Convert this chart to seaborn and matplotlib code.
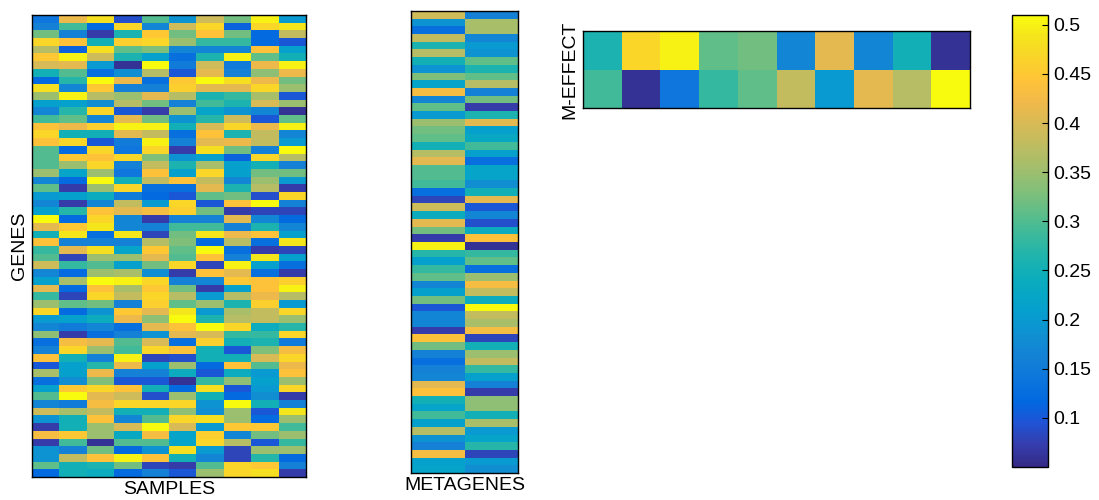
import numpy as np
import pandas as pd
import seaborn as sns
import matplotlib.pyplot as plt
from matplotlib.colors import LinearSegmentedColormap

# expression values, 60 genes x 10 samples
genes = [
    [0.14, 0.42, 0.48, 0.09, 0.30, 0.19, 0.39, 0.32, 0.50, 0.20],
    [0.16, 0.29, 0.12, 0.47, 0.17, 0.39, 0.47, 0.11, 0.47, 0.49],
    [0.32, 0.16, 0.07, 0.26, 0.45, 0.32, 0.44, 0.32, 0.12, 0.38],
    [0.47, 0.44, 0.25, 0.46, 0.47, 0.35, 0.28, 0.28, 0.12, 0.10],
    [0.37, 0.11, 0.48, 0.31, 0.33, 0.17, 0.17, 0.17, 0.44, 0.21],
    [0.45, 0.50, 0.39, 0.26, 0.21, 0.13, 0.26, 0.50, 0.31, 0.25],
    [0.40, 0.41, 0.20, 0.06, 0.51, 0.15, 0.39, 0.15, 0.42, 0.50],
    [0.25, 0.30, 0.13, 0.18, 0.37, 0.10, 0.41, 0.16, 0.34, 0.42],
    [0.12, 0.27, 0.51, 0.42, 0.13, 0.45, 0.51, 0.48, 0.42, 0.32],
    [0.48, 0.17, 0.45, 0.16, 0.16, 0.46, 0.41, 0.41, 0.47, 0.35],
    [0.35, 0.50, 0.37, 0.35, 0.41, 0.37, 0.26, 0.28, 0.36, 0.10],
    [0.21, 0.21, 0.18, 0.37, 0.32, 0.16, 0.29, 0.26, 0.40, 0.35],
    [0.17, 0.27, 0.47, 0.10, 0.07, 0.35, 0.22, 0.19, 0.17, 0.06],
    [0.29, 0.31, 0.17, 0.41, 0.32, 0.19, 0.27, 0.39, 0.10, 0.31],
    [0.44, 0.42, 0.46, 0.50, 0.50, 0.25, 0.40, 0.47, 0.42, 0.50],
    [0.47, 0.25, 0.25, 0.41, 0.38, 0.13, 0.44, 0.26, 0.38, 0.17],
    [0.44, 0.47, 0.10, 0.15, 0.50, 0.16, 0.41, 0.42, 0.38, 0.20],
    [0.30, 0.12, 0.47, 0.14, 0.47, 0.07, 0.48, 0.32, 0.16, 0.51],
    [0.30, 0.45, 0.44, 0.47, 0.33, 0.19, 0.21, 0.11, 0.47, 0.37],
    [0.30, 0.35, 0.47, 0.16, 0.38, 0.26, 0.36, 0.21, 0.25, 0.16],
    [0.35, 0.22, 0.35, 0.14, 0.44, 0.21, 0.47, 0.21, 0.32, 0.32],
    [0.17, 0.12, 0.51, 0.25, 0.38, 0.44, 0.38, 0.17, 0.35, 0.20],
    [0.31, 0.07, 0.35, 0.47, 0.13, 0.13, 0.41, 0.26, 0.37, 0.07],
    [0.20, 0.21, 0.24, 0.15, 0.12, 0.10, 0.31, 0.32, 0.09, 0.47],
    [0.17, 0.07, 0.17, 0.38, 0.20, 0.47, 0.10, 0.44, 0.51, 0.16],
    [0.21, 0.27, 0.44, 0.41, 0.43, 0.46, 0.32, 0.07, 0.08, 0.08],
    [0.51, 0.12, 0.47, 0.17, 0.07, 0.16, 0.16, 0.41, 0.17, 0.12],
    [0.41, 0.45, 0.49, 0.17, 0.16, 0.29, 0.29, 0.16, 0.26, 0.17],
    [0.25, 0.49, 0.13, 0.49, 0.08, 0.32, 0.49, 0.42, 0.44, 0.21],
    [0.44, 0.16, 0.16, 0.16, 0.37, 0.33, 0.12, 0.37, 0.13, 0.49],
    [0.28, 0.41, 0.48, 0.22, 0.45, 0.31, 0.51, 0.13, 0.07, 0.08],
    [0.30, 0.08, 0.35, 0.35, 0.41, 0.30, 0.44, 0.16, 0.49, 0.21],
    [0.39, 0.28, 0.30, 0.21, 0.32, 0.47, 0.08, 0.50, 0.21, 0.13],
    [0.17, 0.12, 0.35, 0.36, 0.18, 0.07, 0.44, 0.41, 0.13, 0.07],
    [0.21, 0.36, 0.51, 0.50, 0.47, 0.16, 0.17, 0.45, 0.44, 0.46],
    [0.41, 0.12, 0.44, 0.36, 0.45, 0.32, 0.07, 0.21, 0.44, 0.50],
    [0.28, 0.08, 0.47, 0.38, 0.47, 0.37, 0.20, 0.37, 0.42, 0.37],
    [0.35, 0.31, 0.32, 0.16, 0.46, 0.31, 0.35, 0.26, 0.46, 0.20],
    [0.47, 0.12, 0.19, 0.45, 0.41, 0.49, 0.20, 0.36, 0.38, 0.47],
    [0.20, 0.21, 0.24, 0.42, 0.34, 0.51, 0.26, 0.37, 0.38, 0.35],
    [0.17, 0.15, 0.17, 0.13, 0.41, 0.44, 0.51, 0.47, 0.24, 0.27],
    [0.34, 0.07, 0.13, 0.16, 0.19, 0.41, 0.40, 0.28, 0.28, 0.47],
    [0.13, 0.43, 0.41, 0.30, 0.40, 0.13, 0.46, 0.25, 0.26, 0.15],
    [0.16, 0.47, 0.35, 0.29, 0.47, 0.44, 0.25, 0.10, 0.33, 0.43],
    [0.44, 0.25, 0.16, 0.50, 0.08, 0.09, 0.25, 0.25, 0.40, 0.47],
    [0.10, 0.21, 0.27, 0.42, 0.21, 0.35, 0.12, 0.44, 0.30, 0.42],
    [0.36, 0.21, 0.42, 0.16, 0.16, 0.24, 0.10, 0.24, 0.20, 0.44],
    [0.13, 0.18, 0.33, 0.10, 0.10, 0.06, 0.28, 0.34, 0.21, 0.35],
    [0.21, 0.45, 0.47, 0.44, 0.25, 0.12, 0.48, 0.10, 0.20, 0.47],
    [0.30, 0.51, 0.41, 0.39, 0.09, 0.35, 0.25, 0.12, 0.18, 0.07],
    [0.17, 0.15, 0.43, 0.47, 0.47, 0.47, 0.19, 0.51, 0.25, 0.16],
    [0.39, 0.36, 0.38, 0.25, 0.25, 0.34, 0.18, 0.35, 0.10, 0.49],
    [0.19, 0.25, 0.44, 0.17, 0.30, 0.47, 0.48, 0.35, 0.12, 0.35],
    [0.07, 0.25, 0.35, 0.40, 0.51, 0.40, 0.20, 0.45, 0.45, 0.29],
    [0.43, 0.45, 0.35, 0.23, 0.43, 0.22, 0.46, 0.17, 0.32, 0.35],
    [0.07, 0.29, 0.06, 0.30, 0.30, 0.22, 0.47, 0.37, 0.10, 0.28],
    [0.19, 0.16, 0.32, 0.12, 0.19, 0.48, 0.20, 0.08, 0.35, 0.35],
    [0.19, 0.38, 0.44, 0.50, 0.44, 0.25, 0.17, 0.08, 0.27, 0.12],
    [0.31, 0.25, 0.26, 0.32, 0.08, 0.07, 0.30, 0.47, 0.45, 0.16],
    [0.12, 0.25, 0.24, 0.12, 0.16, 0.10, 0.35, 0.47, 0.48, 0.07],
]

# metagene loadings (60 genes x 2)
metagene_1 = [0.39, 0.19, 0.13, 0.38, 0.26, 0.37, 0.25, 0.19, 0.33, 0.22,
              0.43, 0.17, 0.31, 0.20, 0.35, 0.32, 0.31, 0.25, 0.37, 0.41,
              0.30, 0.30, 0.29, 0.13, 0.08, 0.39, 0.24, 0.41, 0.32, 0.07,
              0.50, 0.27, 0.21, 0.28, 0.31, 0.17, 0.21, 0.32, 0.10, 0.17,
              0.17, 0.07, 0.44, 0.32, 0.16, 0.13, 0.16, 0.17, 0.41, 0.44,
              0.25, 0.22, 0.29, 0.21, 0.37, 0.19, 0.16, 0.43, 0.21, 0.22]
metagene_2 = [0.16, 0.36, 0.36, 0.17, 0.20, 0.19, 0.31, 0.26, 0.31, 0.37,
              0.16, 0.32, 0.07, 0.26, 0.41, 0.21, 0.23, 0.29, 0.21, 0.13,
              0.22, 0.22, 0.18, 0.25, 0.41, 0.10, 0.17, 0.09, 0.24, 0.44,
              0.06, 0.28, 0.31, 0.13, 0.35, 0.43, 0.38, 0.24, 0.51, 0.38,
              0.36, 0.43, 0.08, 0.25, 0.35, 0.38, 0.28, 0.21, 0.16, 0.07,
              0.34, 0.34, 0.25, 0.36, 0.20, 0.22, 0.27, 0.08, 0.20, 0.18]

# metagene effect per sample (2 x 10)
effect_1 = [0.26, 0.47, 0.50, 0.31, 0.32, 0.17, 0.41, 0.17, 0.25, 0.06]
effect_2 = [0.29, 0.06, 0.14, 0.28, 0.31, 0.38, 0.20, 0.41, 0.37, 0.51]

cbar_ticks = [0.1, 0.15, 0.2, 0.25, 0.3, 0.35, 0.4, 0.45, 0.5]
vmin, vmax = 0.05, 0.51

# parula-like colormap
parula = LinearSegmentedColormap.from_list('parula', [
    (0.2081, 0.1663, 0.5292), (0.2081, 0.2386, 0.6771), (0.1253, 0.3242, 0.8303),
    (0.0060, 0.4086, 0.8828), (0.0498, 0.4586, 0.8641), (0.0779, 0.5040, 0.8384),
    (0.0641, 0.5570, 0.8240), (0.0265, 0.6137, 0.8135), (0.0228, 0.6535, 0.7768),
    (0.0590, 0.6838, 0.7254), (0.1453, 0.7098, 0.6646), (0.2586, 0.7317, 0.5954),
    (0.3953, 0.7459, 0.5244), (0.5300, 0.7491, 0.4661), (0.6473, 0.7456, 0.4188),
    (0.7525, 0.7384, 0.3768), (0.8507, 0.7299, 0.3360), (0.9450, 0.7261, 0.2886),
    (0.9990, 0.7653, 0.2164), (0.9789, 0.8271, 0.1633), (0.9589, 0.8949, 0.1132),
    (0.9763, 0.9831, 0.0538)])

genes_df = pd.DataFrame(genes)
meta_df = pd.DataFrame({'m1': metagene_1, 'm2': metagene_2})
effect_df = pd.DataFrame([effect_1, effect_2])

plt.rcParams['font.family'] = ['Liberation Sans', 'DejaVu Sans']

fig = plt.figure(figsize=(10.99, 5.0), dpi=100)
W, H = 1099, 500


def px_axes(x0, y0, x1, y1):
    return fig.add_axes([x0 / W, 1 - y1 / H, (x1 - x0) / W, (y1 - y0) / H])


ax_genes = px_axes(32, 15, 306, 477)
ax_meta = px_axes(411, 11, 518, 473)
ax_eff = px_axes(583, 31, 970, 108)
cax = px_axes(1012, 15, 1048, 467)

sns.heatmap(genes_df, ax=ax_genes, cmap=parula, vmin=vmin, vmax=vmax,
            xticklabels=False, yticklabels=False, cbar=True, cbar_ax=cax)
sns.heatmap(meta_df, ax=ax_meta, cmap=parula, vmin=vmin, vmax=vmax,
            xticklabels=False, yticklabels=False, cbar=False)
sns.heatmap(effect_df, ax=ax_eff, cmap=parula, vmin=vmin, vmax=vmax,
            xticklabels=False, yticklabels=False, cbar=False)

for ax in (ax_genes, ax_meta, ax_eff):
    for s in ax.spines.values():
        s.set_visible(True)
        s.set_linewidth(1.0)
        s.set_color('black')

ax_genes.set_xlabel('SAMPLES', fontsize=14, labelpad=3)
ax_genes.set_ylabel('GENES', fontsize=14, labelpad=3)
ax_meta.set_xlabel('METAGENES', fontsize=14, labelpad=3)
ax_eff.set_ylabel('M-EFFECT', fontsize=14, labelpad=3)

cb = ax_genes.collections[0].colorbar
cb.outline.set_linewidth(1.0)
cb.outline.set_edgecolor('black')
cb.set_ticks(cbar_ticks)
cb.set_ticklabels([f'{t:g}' for t in cbar_ticks])
cax.tick_params(direction='in', length=4, width=0.8, labelsize=14, pad=4)

fig.savefig('out.png', dpi=100)
